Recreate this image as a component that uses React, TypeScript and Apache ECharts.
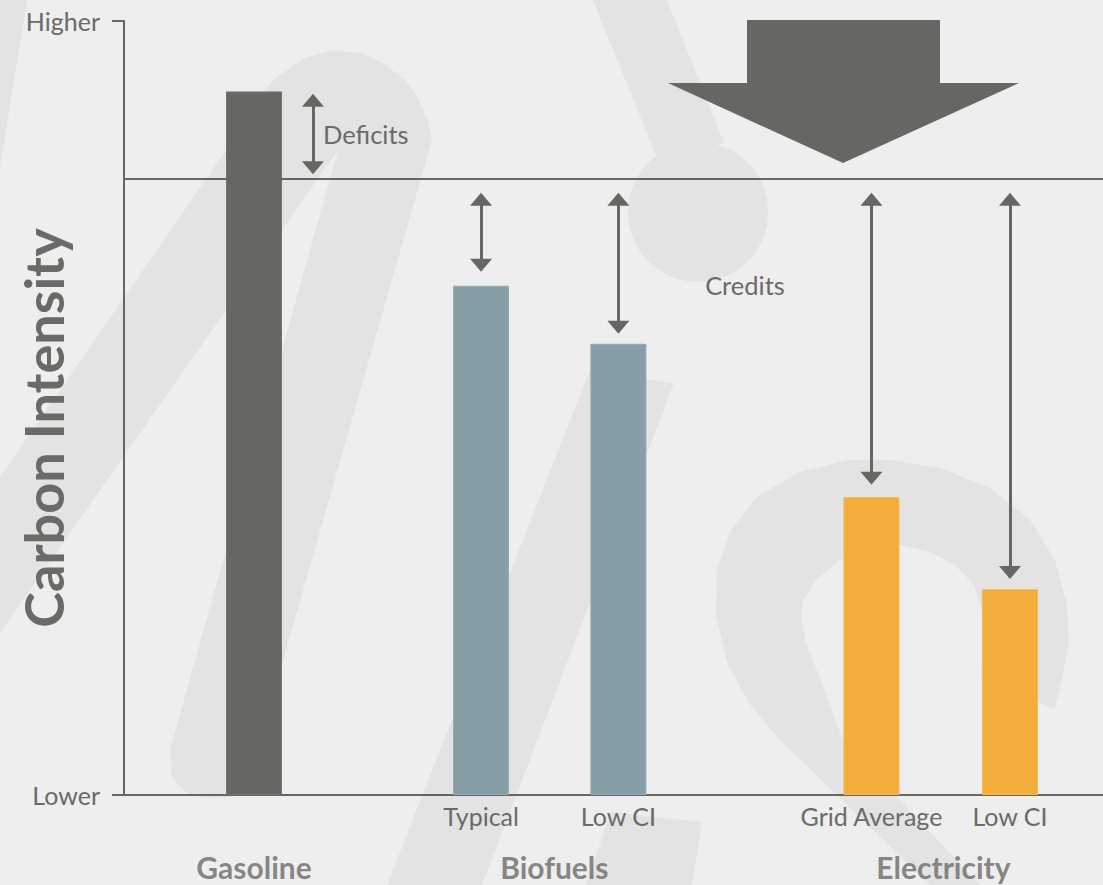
import React, { useEffect, useRef } from 'react';
import * as echarts from 'echarts';

// ---- data ----
const barSubLabels = ['', 'Typical', 'Low CI', 'Grid Average', 'Low CI'];
const barPositions = [13.28, 36.47, 50.5, 76.35, 90.5];
const barValues = [90.9, 65.8, 58.3, 38.5, 26.6];
const barColors = ['#676662', '#879ea6', '#879ea6', '#f3ad3b', '#f3ad3b'];
const barBorders = ['#74736f', '#97aab1', '#97aab1', '#f5b955', '#f5b955'];
const groupLabels = ['Gasoline', 'Biofuels', 'Electricity'];
const groupPositions = [13.28, 43.96, 83.7];
const standardValue = 79.6;
const arrowPositions = [19.3, 36.47, 50.5, 76.35, 90.5];
const arrowFrom = [90.6, 77.8, 77.8, 77.8, 77.8];
const arrowTo = [80.2, 67.6, 59.6, 40.1, 27.9];
const yTickLabels = ['Lower', 'Higher'];
const yMin = 0;
const yMax = 100;

const INK = '#676662';
const TEXT = '#6b6a66';
const WM = '#e3e3e3';
const FONT = 'Lato';

const GRID = { left: 124, right: 0, top: 21, bottom: 90 };

export default function App() {
  const ref = useRef<HTMLDivElement>(null);

  useEffect(() => {
    if (!ref.current) return;
    document.body.style.margin = '0';
    const chart = echarts.init(ref.current, undefined, { renderer: 'svg' });

    const plotH = 885 - GRID.top - GRID.bottom;
    const unitPx = plotH / (yMax - yMin);
    const headH = 13;
    const inset = headH / 2 / unitPx;

    const wm = (points: number[][]) => ({
      type: 'polygon',
      z: -10,
      silent: true,
      shape: { points },
      style: { fill: WM },
    });

    const option: any = {
      animation: false,
      backgroundColor: '#eeeeee',
      textStyle: { fontFamily: FONT },
      grid: GRID,
      xAxis: {
        type: 'value',
        min: 0,
        max: 100,
        axisLine: { show: true, lineStyle: { color: INK, width: 2 } },
        axisTick: { show: false },
        axisLabel: { show: false },
        splitLine: { show: false },
      },
      yAxis: {
        type: 'value',
        min: yMin,
        max: yMax,
        interval: yMax - yMin,
        axisLine: { show: true, lineStyle: { color: INK, width: 2 } },
        axisTick: { show: true, length: 12, lineStyle: { color: INK, width: 2 } },
        axisLabel: {
          margin: 24,
          color: TEXT,
          fontSize: 25,
          fontFamily: FONT,
          formatter: (v: number) => (v === yMax ? yTickLabels[1] : yTickLabels[0]),
        },
        splitLine: { show: false },
      },
      graphic: [
        wm([[0, 0], [27, 0], [0, 167]]),
        wm([[0, 477], [233, 140], [255, 100], [277, 77], [305, 58], [333, 50], [360, 53], [383, 63], [405, 80], [417, 97], [427, 118], [432, 140], [246, 790], [230, 797], [205, 798], [185, 792], [172, 777], [170, 750], [338, 150], [0, 633]]),
        wm([[590, 370], [674, 383], [482, 885], [387, 885]]),
        wm([[593, 0], [667, 0], [724, 143], [657, 158]]),
        { type: 'circle', z: -10, silent: true, shape: { cx: 698, cy: 212, r: 70 }, style: { fill: WM } },
        wm([[611, 812], [702, 822], [692, 885], [586, 885]]),
        wm([[930, 885], [780, 740], [748, 702], [727, 662], [716, 615], [717, 570], [731, 530], [758, 496], [800, 472], [850, 460], [889, 460], [940, 468], [990, 488], [1030, 520], [1055, 560], [1067, 605], [1069, 642], [1062, 680], [1054, 709], [981, 675], [984, 640], [982, 610], [974, 585], [955, 565], [930, 552], [900, 545], [870, 548], [840, 560], [816, 580], [803, 600], [801, 615], [805, 640], [816, 668], [843, 740], [980, 885]]),
        {
          type: 'polygon',
          z: 10,
          silent: true,
          shape: { points: [[747, 20], [940, 20], [940, 83], [1019, 83], [843, 163], [668, 83], [747, 83]] },
          style: { fill: INK },
        },
        {
          type: 'text',
          z: 10,
          x: 323,
          y: 134,
          style: { text: 'Deficits', fill: TEXT, fontSize: 25.5, fontFamily: FONT, align: 'left', verticalAlign: 'middle' },
        },
        {
          type: 'text',
          z: 10,
          x: 745,
          y: 285,
          style: { text: 'Credits', fill: TEXT, fontSize: 25.5, fontFamily: FONT, align: 'center', verticalAlign: 'middle' },
        },
        {
          type: 'text',
          z: 10,
          x: 43,
          y: 428,
          rotation: Math.PI / 2,
          style: { text: 'Carbon Intensity', fill: TEXT, fontSize: 54, fontWeight: 'bold', fontFamily: FONT, align: 'center', verticalAlign: 'middle' },
        },
      ],
      series: [
        {
          type: 'bar',
          barWidth: 56,
          silent: true,
          data: barPositions.map((x, i) => ({
            value: [x, barValues[i]],
            itemStyle: { color: barColors[i], borderColor: barBorders[i], borderWidth: 1 },
            label: { formatter: barSubLabels[i] },
          })),
          label: {
            show: true,
            position: 'bottom',
            distance: 8,
            color: TEXT,
            fontSize: 25,
            fontFamily: FONT,
          },
          markLine: {
            silent: true,
            symbol: 'none',
            label: { show: false },
            lineStyle: { color: INK, width: 2, type: 'solid' },
            data: [{ yAxis: standardValue }],
          },
        },
        {
          type: 'scatter',
          symbolSize: 0,
          silent: true,
          data: groupPositions.map((x, i) => ({ value: [x, 0], name: groupLabels[i] })),
          label: {
            show: true,
            position: 'bottom',
            distance: 57,
            formatter: '{b}',
            color: TEXT,
            fontSize: 30,
            fontWeight: 'bold',
            fontFamily: FONT,
          },
        },
        {
          type: 'line',
          data: [],
          silent: true,
          markLine: {
            silent: true,
            symbol: ['triangle', 'triangle'],
            symbolSize: [22, headH],
            label: { show: false },
            lineStyle: { color: INK, width: 3, type: 'solid' },
            data: arrowPositions.map((x, i) => [
              { coord: [x, arrowFrom[i] - inset] },
              { coord: [x, arrowTo[i] + inset] },
            ]),
          },
        },
      ],
    };

    chart.setOption(option);
    return () => chart.dispose();
  }, []);

  return (
    <div
      ref={ref}
      style={{ position: 'absolute', left: 0, top: 0, width: 1103, height: 885 }}
    />
  );
}
